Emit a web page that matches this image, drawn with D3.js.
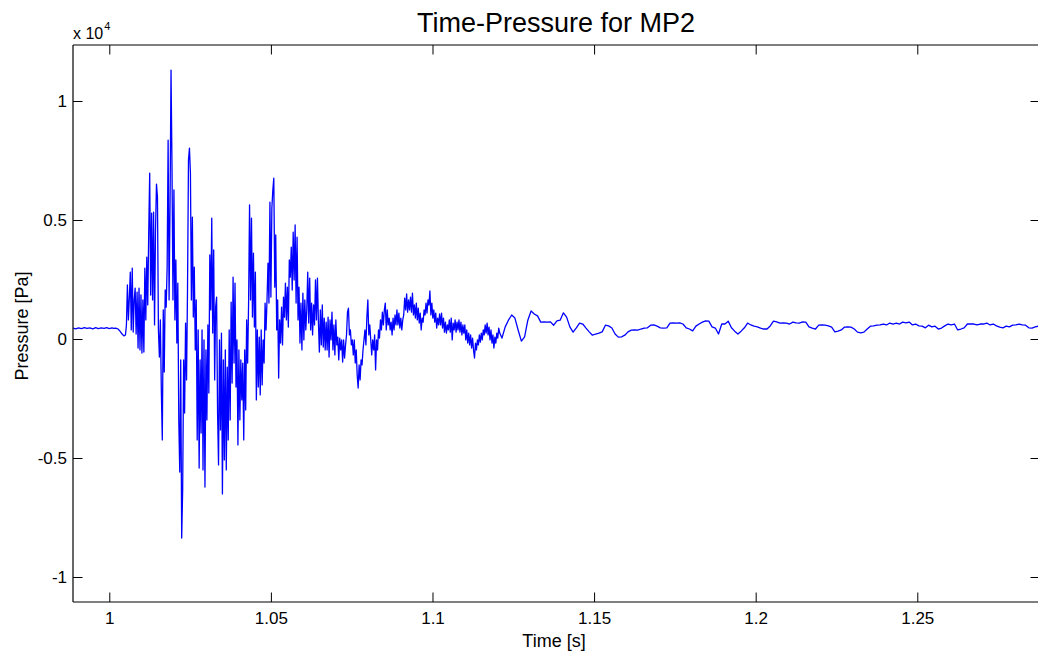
<!DOCTYPE html>
<html>
<head>
<meta charset="utf-8">
<script src="https://cdn.jsdelivr.net/npm/d3@7"></script>
<style>
  html, body { margin: 0; padding: 0; background: #fff; }
  svg { display: block; font-family: "Liberation Sans", Arial, Helvetica, sans-serif; }
</style>
</head>
<body>
<svg id="chart" width="1038" height="655"></svg>
<script>
// ---------------- data (time in ms, pressure in Pa) ----------------
const chartTitle = "Time-Pressure for MP2";
const xLabel = "Time [s]";
const yLabel = "Pressure [Pa]";
const xTicks = [1, 1.05, 1.1, 1.15, 1.2, 1.25];
const xTickLabels = ["1", "1.05", "1.1", "1.15", "1.2", "1.25"];
const yTicks = [-10000, -5000, 0, 5000, 10000];
const yTickLabels = ["-1", "-0.5", "0", "0.5", "1"];
const xDomain = [0.98877, 1.28797];
const yDomain = [-11050, 12353];

// quiet lead-in before the blast arrives
const preTimeMs = [988.8, 989.6, 990.5, 991.4, 992.3, 993.1, 994.0, 994.9, 995.8, 996.6, 997.5, 998.4, 999.2, 1000.0, 1000.8, 1001.4, 1002.0, 1002.7, 1003.3, 1003.9, 1004.5];
const prePressure = [460, 430, 470, 440, 480, 445, 465, 430, 475, 440, 470, 450, 480, 440, 470, 445, 460, 420, 330, 220, 130];

// blast and decay, sampled every 0.3 ms from 1005.0 ms
const burstStartMs = 1005.0;
const burstStepMs = 0.3;
const burstPressure = [
  170, 590, 2270, 800, 1720, 2810, 380, 2980, 290, 1640,
  2140, 210, 1970, -380, 2140, -460, 1850, -590, 1640, -550,
  2980, 800, 3440, 1430, 4490, 6970, 1850, 5290, 1640, 5330,
  590, 4580, 6510, 5960, 380, -760, 800, -2140, -4240, 1220,
  -1390, 2060, 1340, 3020, 8360, 1640, 5710, 11300, 7220, 1640,
  6260, 800, 3320, -170, 2350, -3400, -5590, -880, -8360, -6340,
  -880, -3110, 670, -1720, 2060, 7520, 8020, 6970, 1640, 5120,
  920, 3020, -460, 1640, -4240, 380, -5420, -880, -3950, 380,
  -5500, -40, -6220, -460, -3400, 590, -2270, 3530, 1220, 5080,
  250, 3740, -1720, 1340, 1760, -3110, -5290, -40, -3820, 250,
  -6510, -880, -5080, -460, -5500, -1180, -4240, 380, -3400, 1550,
  -1850, 2600, -1010, 2350, -2020, -40, -4450, -460, -3400, -880,
  -2560, -1010, -4240, -460, -2980, 800, -1010, 1510, 5630, 1640,
  5080, 920, 3610, 500, 2810, -2560, 380, -2020, 80, -2350,
  380, -1930, -40, -1010, 1510, 380, 1640, 3190, 1510, 5750,
  1760, 5500, 6260, 6760, 2180, 4370, 380, 1640, -1640, 800,
  -170, 1340, -250, 1760, 920, 2350, 800, 2180, 500, 3320,
  2600, 3860, 2060, 4490, 2480, 4790, 1510, 4280, 800, 2180,
  -170, 1510, -460, 1930, -40, 1640, 380, 1220, 2810, 670,
  2560, 380, 1510, 170, 1430, 590, 2480, 800, 2560, 710,
  -550, 1220, -250, 1430, -340, 880, -460, 710, -460, 920,
  -760, 800, -40, 1130, -460, 590, -670, 800, -250, 80,
  -880, 40, -460, -40, -970, -40, -800, -250, 170, 1130,
  1300, 170, 380, -250, -40, -670, -40, -1010, -460, -1510,
  -2060, -1090, -1720, -880, -1090, -460, -40, 380, -250, 920,
  1640, 170, 590, -40, -670, -40, -460, 170, -1300, -40,
  -460, 380, 40, 800, 380, 1130, 590, 1220, 1510, 380,
  1220, 590, 880, 380, 710, 170, 880, 380, 1010, 590,
  1220, 590, 1090, 460, 880, 380, 800, 1010, 1720, 1220,
  1890, 1130, 1640, 1220, 1760, 1130, 1930, 1010, 1430, 880,
  1510, 800, 1300, 670, 1090, 380, 880, 710, 1220, 1010,
  1510, 1090, 1640, 1430, 2020, 1010, 1510, 880, 1220, 710,
  1090, 460, 880, 590, 1050, 590, 1090, 460, 880, 290,
  710, 250, 590, 380, 800, 290, 880, -40, 670, 380,
  800, 290, 710, 380, 800, 290, 710, 170, 590, 250,
  590, -40, 380, -170, 250, -250, 170, -380, 40, -460,
  -800, -170, -460, -40, -250, 170, -130, 250, -40, 380,
  170, 590, 250, 670, 170, 500, -40, 380, -170, 170,
  -380, 80, -170, 250, 40, 460, 250
];

// long tail, sampled every 1.0 ms from 1121.5 ms
const tailStartMs = 1121.5;
const tailStepMs = 1.0;
const tailPressure = [
  40, 510, 790, 1010, 880, 380, -90, 90, 790, 1180,
  1050, 970, 710, 720, 710, 720, 580, 760, 790, 1100,
  920, 510, 290, 470, 670, 630, 460, 300, 160, 210,
  250, 300, 580, 550, 460, 210, 80, 90, 160, 300,
  370, 380, 370, 420, 460, 470, 580, 590, 540, 470,
  460, 470, 670, 680, 670, 680, 630, 470, 420, 340,
  540, 630, 710, 760, 750, 510, 460, 210, 630, 630,
  750, 470, 330, 210, 330, 470, 670, 590, 540, 510,
  460, 420, 420, 550, 750, 720, 670, 680, 670, 630,
  710, 680, 670, 720, 710, 510, 460, 420, 580, 590,
  580, 550, 500, 300, 330, 380, 500, 510, 500, 420,
  290, 260, 290, 420, 540, 550, 580, 590, 630, 590,
  670, 630, 670, 630, 710, 680, 710, 590, 630, 550,
  540, 470, 580, 510, 540, 420, 460, 550, 630, 590,
  630, 380, 420, 470, 630, 630, 630, 590, 630, 630,
  670, 590, 630, 550, 500, 470, 540, 510, 580, 590,
  630, 590, 580, 470, 460, 510, 540, 470
];

// ---------------- assemble samples ----------------
const samples = [];
preTimeMs.forEach((t, i) => samples.push({ t: t / 1000, p: prePressure[i] }));
burstPressure.forEach((p, i) => samples.push({ t: (burstStartMs + i * burstStepMs) / 1000, p }));
tailPressure.forEach((p, i) => samples.push({ t: (tailStartMs + i * tailStepMs) / 1000, p }));

// ---------------- layout ----------------
const svg = d3.select("#chart");
const W = 1038, H = 655;
const mLeft = 73, mRight = 1040, mTop = 45, mBottom = 602;

svg.append("rect").attr("width", W).attr("height", H).attr("fill", "#fff");

const x = d3.scaleLinear().domain(xDomain).range([mLeft, mRight]);
const y = d3.scaleLinear().domain(yDomain).range([mBottom, mTop]);

svg.append("defs").append("clipPath").attr("id", "plotclip")
  .append("rect").attr("x", mLeft).attr("y", mTop).attr("width", mRight - mLeft).attr("height", mBottom - mTop);

// line
const line = d3.line().x(d => x(d.t)).y(d => y(d.p));
svg.append("path")
  .datum(samples)
  .attr("clip-path", "url(#plotclip)")
  .attr("fill", "none")
  .attr("stroke", "#0000ff")
  .attr("stroke-width", 1.3)
  .attr("stroke-linejoin", "round")
  .attr("d", line);

// axes
const tickLen = 9.5;
const fontTick = 17;

const xb = svg.append("g").attr("transform", `translate(0,${mBottom})`)
  .call(d3.axisBottom(x).tickValues(xTicks).tickSize(-tickLen).tickPadding(10)
    .tickFormat((d, i) => xTickLabels[i]));
const xt = svg.append("g").attr("transform", `translate(0,${mTop})`)
  .call(d3.axisTop(x).tickValues(xTicks).tickSize(-tickLen).tickFormat(""));
const yl = svg.append("g").attr("transform", `translate(${mLeft},0)`)
  .call(d3.axisLeft(y).tickValues(yTicks).tickSize(-tickLen).tickPadding(6)
    .tickFormat((d, i) => yTickLabels[i]));
const yr = svg.append("g").attr("transform", `translate(${mRight},0)`)
  .call(d3.axisRight(y).tickValues(yTicks).tickSize(-tickLen).tickFormat(""));

[xb, xt, yl, yr].forEach(g => {
  g.selectAll(".domain").attr("stroke", "#000").attr("stroke-width", 1.2);
  g.selectAll(".tick line").attr("stroke", "#000").attr("stroke-width", 1);
  g.selectAll("text").attr("fill", "#000").attr("font-size", fontTick)
    .attr("font-family", "'Liberation Sans', Arial, sans-serif");
});
[xb, xt].forEach(g => g.select(".domain").attr("d", `M${mLeft},0H${mRight}`));
[yl, yr].forEach(g => g.select(".domain").attr("d", `M0,${mTop}V${mBottom}`));

// exponent label
const ex = svg.append("text").attr("x", mLeft).attr("y", 39)
  .attr("font-size", 16).attr("fill", "#000");
ex.append("tspan").text("x 10");
ex.append("tspan").attr("font-size", 11).attr("dy", -9).attr("dx", 1).text("4");

// title
svg.append("text").attr("x", 556).attr("y", 32).attr("text-anchor", "middle")
  .attr("font-size", 27).attr("fill", "#000").text(chartTitle);

// axis labels
svg.append("text").attr("x", 554).attr("y", 647).attr("text-anchor", "middle")
  .attr("font-size", 18).attr("fill", "#000").text(xLabel);
svg.append("text").attr("transform", "translate(28,326) rotate(-90)")
  .attr("text-anchor", "middle").attr("font-size", 18).attr("fill", "#000").text(yLabel);
</script>
</body>
</html>
